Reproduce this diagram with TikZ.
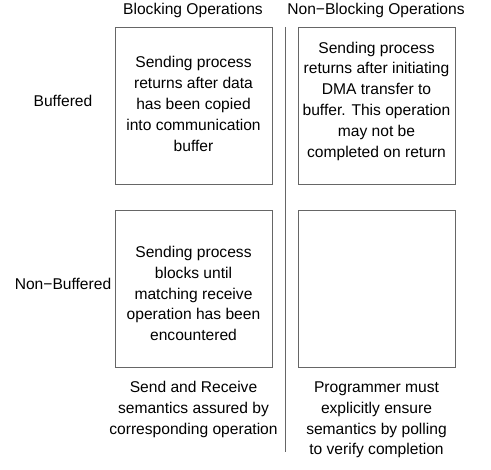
\documentclass[tikz,border=0pt]{standalone}
\usepackage{fontspec}
\setmainfont{Liberation Sans}
\begin{document}
\begin{tikzpicture}[x=1pt,y=-1pt,
  cell/.style={draw=black!60,line width=0.9pt,minimum width=157pt,minimum height=157pt,inner sep=0pt},
  txt/.style={align=center,font=\fontsize{15.6}{20.8}\selectfont,inner sep=0pt},
  divider/.style={draw=black!60,line width=0.8pt}]
\useasboundingbox (0,0) rectangle (491,470);
\node[txt] (hb) at (193,10) {Blocking Operations};
\node[txt] (hn) at (376,10) {Non−Blocking Operations};
\node[txt] (rb) at (63,101) {Buffered};
\node[txt] (rn) at (63,284) {Non−Buffered};
\node[cell] (c11) at (193.5,105.5) {};
\node[cell] (c12) at (376.5,105.5) {};
\node[cell] (c21) at (193.5,289) {};
\node[cell] (c22) at (376.5,289) {};
\node[txt] (t11) at (193.5,104) {Sending process\\returns after data\\has been copied\\into communication\\buffer};
\node[txt] (t12) at (376.5,101) {Sending process\\returns after initiating\\DMA transfer to\\buffer. This operation\\may not be\\completed on return};
\node[txt] (t21) at (193.5,293.5) {Sending process\\blocks until\\matching receive\\operation has been\\encountered};
\node[txt] (s1) at (193.5,409.5) {Send and Receive\\semantics assured by\\corresponding operation};
\node[txt] (s2) at (376.5,420) {Programmer must\\explicitly ensure\\semantics by polling\\to verify completion};
\coordinate (vtop) at (285,27);
\coordinate (vbot) at (285,452);
\draw[divider] (vtop) -- (vbot);
\end{tikzpicture}
\end{document}
